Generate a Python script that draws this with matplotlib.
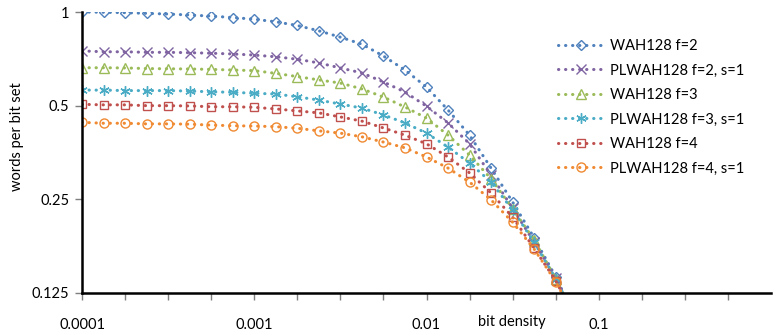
import matplotlib
matplotlib.use("Agg")
import matplotlib.pyplot as plt
from matplotlib.ticker import FixedLocator, NullLocator, FixedFormatter

plt.rcParams['font.family'] = ['Lato', 'DejaVu Sans']

# bit density (x) - 8 points per decade
density = [1e-4, 1.334e-4, 1.778e-4, 2.371e-4, 3.162e-4, 4.217e-4, 5.623e-4, 7.499e-4,
           1e-3, 1.334e-3, 1.778e-3, 2.371e-3, 3.162e-3, 4.217e-3, 5.623e-3, 7.499e-3,
           1e-2, 1.334e-2, 1.778e-2, 2.371e-2, 3.162e-2, 4.217e-2, 5.623e-2, 7.499e-2]

# words per bit set
wah_f2 = [1.000, 0.998, 0.995, 0.990, 0.985, 0.978, 0.970, 0.960, 0.948, 0.930, 0.905, 0.870,
          0.830, 0.788, 0.722, 0.651, 0.574, 0.484, 0.402, 0.315, 0.245, 0.188, 0.141, 0.101]
plwah_f2 = [0.750, 0.745, 0.745, 0.742, 0.742, 0.740, 0.737, 0.733, 0.727, 0.718, 0.705, 0.686,
            0.661, 0.637, 0.596, 0.553, 0.498, 0.440, 0.377, 0.299, 0.234, 0.182, 0.140, 0.101]
wah_f3 = [0.662, 0.662, 0.661, 0.658, 0.657, 0.656, 0.654, 0.651, 0.648, 0.635, 0.620, 0.605,
          0.591, 0.566, 0.533, 0.495, 0.456, 0.402, 0.347, 0.291, 0.233, 0.185, 0.139, 0.101]
plwah_f3 = [0.561, 0.561, 0.559, 0.559, 0.559, 0.557, 0.554, 0.552, 0.548, 0.545, 0.534, 0.521,
            0.506, 0.491, 0.467, 0.440, 0.408, 0.368, 0.327, 0.284, 0.231, 0.182, 0.139, 0.101]
wah_f4 = [0.505, 0.503, 0.503, 0.500, 0.500, 0.499, 0.496, 0.496, 0.494, 0.488, 0.481, 0.474,
          0.460, 0.446, 0.424, 0.402, 0.377, 0.342, 0.304, 0.262, 0.219, 0.174, 0.137, 0.101]
plwah_f4 = [0.442, 0.439, 0.439, 0.437, 0.437, 0.436, 0.433, 0.431, 0.430, 0.428, 0.423, 0.415,
            0.408, 0.397, 0.382, 0.366, 0.342, 0.315, 0.284, 0.249, 0.211, 0.173, 0.136, 0.101]

labels = ['WAH128 f=2', 'PLWAH128 f=2, s=1', 'WAH128 f=3',
          'PLWAH128 f=3, s=1', 'WAH128 f=4', 'PLWAH128 f=4, s=1']
series = [wah_f2, plwah_f2, wah_f3, plwah_f3, wah_f4, plwah_f4]
colors = ['#4F81BD', '#8064A2', '#9BBB59', '#4BACC6', '#C0504D', '#F08A32']
markers = ['D', 'x', '^', (6, 2, 0), 's', 'o']
msizes = [5, 6.5, 6.5, 7.5, 6, 6.5]

fig = plt.figure(figsize=(7.73, 3.32), dpi=100)
ax = fig.add_axes([82 / 773, 1 - 293 / 332, (771 - 82) / 773, (293 - 12) / 332])

for ys, lab, c, m, ms in zip(series, labels, colors, markers, msizes):
    ax.plot(density, ys, color=c, lw=2.2, linestyle=(0, (0.1, 2.2)),
            dash_capstyle='round', marker=m, ms=ms, mfc='none', mec=c,
            mew=1.0, label=lab, clip_on=True)

ax.set_xscale('log')
ax.set_yscale('log', base=2)
ax.set_xlim(1e-4, 1)
ax.set_ylim(0.125, 1)

xt = [10 ** (-4 + j / 4) for j in range(16)]
xl = ['0.0001' if j == 0 else '0.001' if j == 4 else '0.01' if j == 8 else '0.1' if j == 12 else ''
      for j in range(16)]
ax.xaxis.set_major_locator(FixedLocator(xt))
ax.xaxis.set_major_formatter(FixedFormatter(xl))
ax.xaxis.set_minor_locator(NullLocator())
ax.yaxis.set_major_locator(FixedLocator([0.125, 0.25, 0.5, 1]))
ax.yaxis.set_major_formatter(FixedFormatter(['0.125', '0.25', '0.5', '1']))
ax.yaxis.set_minor_locator(NullLocator())

for s in ['top', 'right']:
    ax.spines[s].set_visible(False)
for s in ['left', 'bottom']:
    ax.spines[s].set_linewidth(1.8)
    ax.spines[s].set_color('black')
ax.tick_params(axis='x', direction='out', length=5, width=1, color='#7F7F7F',
               labelsize=10.5, pad=13)
ax.tick_params(axis='y', direction='out', length=5, width=1, color='#7F7F7F',
               labelsize=10.5, pad=4)

fig.text(17 / 773, 1 - 137 / 332, 'words per bit set', rotation=90,
         ha='center', va='center', fontsize=10.5)
fig.text(512 / 773, 1 - 322 / 332, 'bit density', ha='center', va='center', fontsize=10.5)

ax.legend(loc='upper left', bbox_to_anchor=(558 / 773, 1 - 39 / 332),
          bbox_transform=fig.transFigure, frameon=False, fontsize=10.5,
          handlelength=3.1, handletextpad=0.5, labelspacing=0.72, borderpad=0,
          borderaxespad=0)

fig.savefig('out.png', dpi=100)
